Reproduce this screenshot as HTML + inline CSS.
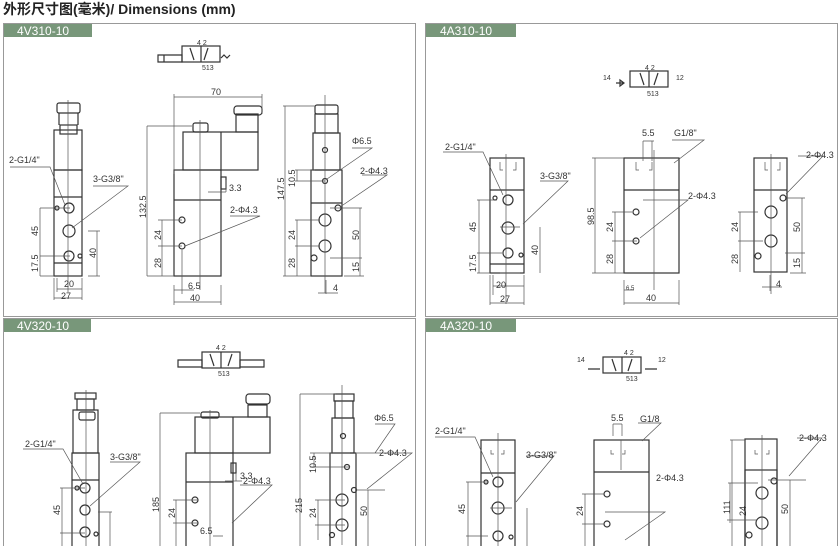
<!DOCTYPE html>
<html><head><meta charset="utf-8"><style>
body{margin:0;background:#fff;width:840px;height:546px;overflow:hidden}
svg{display:block}
text{font-family:"Liberation Sans","Noto Sans CJK SC",sans-serif;fill:#333}
.l{stroke:#333;stroke-width:1.2;fill:none}
.t{stroke:#555;stroke-width:0.7;fill:none}
.d{font-size:9px}
</style></head><body>
<svg width="840" height="546" viewBox="0 0 840 546" xmlns="http://www.w3.org/2000/svg">
<text x="3" y="14" style="font-size:14px;font-weight:bold;fill:#222">外形尺寸图(毫米)/ Dimensions (mm)</text>
<g stroke="#999" fill="none" stroke-width="1">
<rect x="3.5" y="23.5" width="412" height="293"/>
<rect x="425.5" y="23.5" width="412" height="293"/>
<path d="M3.5 546V318.5H415.5V546M425.5 546V318.5H837.5V546"/>
</g>
<g fill="#78977a">
<rect x="4" y="24" width="88" height="13"/><rect x="426" y="24" width="90" height="13"/>
<rect x="4" y="319" width="87" height="13"/><rect x="426" y="319" width="90" height="13"/>
</g>
<g style="font-size:12px;fill:#fff">
<text x="17" y="35" style="fill:#fff">4V310-10</text><text x="440" y="35" style="fill:#fff">4A310-10</text>
<text x="17" y="330" style="fill:#fff">4V320-10</text><text x="440" y="330" style="fill:#fff">4A320-10</text>
</g>

<g class="l" stroke-width="0.8">
<rect x="182" y="46" width="38" height="16"/><path d="M201 46v16M158 55h24v7h-24zM164 55v7M190 48l4 12M208 48l-4 12M221 58l3-3 3 3 3-3"/>
<rect x="630" y="71" width="38" height="16"/><path d="M649 71v16M616 83h8M640 73l4 12M658 73l-4 12M620 80l4 3-4 3z"/>
<rect x="202" y="352" width="38" height="16"/><path d="M221 352v16M178 360h24v7h-24zM240 360h24v7h-24zM210 354l4 12M232 354l-4 12"/>
<rect x="603" y="357" width="38" height="16"/><path d="M622 357v16M588 369h12M645 369h12M612 359l4 12M632 359l-4 12"/>
</g>
<g style="font-size:7px">
<text x="197" y="45">4 2</text><text x="202" y="70">513</text>
<text x="645" y="70">4 2</text><text x="647" y="96">513</text><text x="603" y="80">14</text><text x="676" y="80">12</text>
<text x="216" y="350">4 2</text><text x="218" y="376">513</text>
<text x="624" y="355">4 2</text><text x="626" y="381">513</text><text x="577" y="362">14</text><text x="658" y="362">12</text>
</g>

<g class="l">
<rect x="54" y="170" width="28" height="106"/><path d="M54 197h28M54 263h28"/>
<rect x="54" y="130" width="28" height="40"/><rect x="60" y="125" width="17" height="9"/>
<rect x="57" y="103" width="23" height="10" rx="2"/><path d="M59 113v12M78 113v12"/>
<circle cx="69" cy="208" r="5"/><circle cx="69" cy="231" r="6"/><circle cx="69" cy="256" r="5"/>
<circle cx="57" cy="208" r="2"/><circle cx="80" cy="256" r="2"/>
<rect x="174" y="170" width="47" height="106"/><path d="M174 200h47"/>
<rect x="183" y="132" width="75" height="38"/><path d="M221 132v38"/>
<rect x="236" y="114" width="22" height="18"/><rect x="234" y="106" width="28" height="9" rx="3"/>
<rect x="193" y="123" width="15" height="9" rx="2"/>
<rect x="221" y="177" width="5" height="12"/>
<circle cx="182" cy="220" r="3"/><circle cx="182" cy="246" r="3"/>
<rect x="311" y="170" width="31" height="106"/><path d="M311 203h31"/>
<rect x="313" y="133" width="27" height="37"/><rect x="315" y="114" width="23" height="19"/>
<rect x="315" y="105" width="23" height="9" rx="2"/>
<circle cx="325" cy="150" r="2.5"/><circle cx="325" cy="181" r="2.5"/>
<circle cx="325" cy="220" r="6"/><circle cx="325" cy="246" r="6"/>
<circle cx="338" cy="208" r="3"/><circle cx="314" cy="258" r="3"/>
</g>
<g class="t">
<path d="M68 100v192M200 120v170M325 95v198"/>
<path d="M40 208h30M40 256h30M40 276h14M40 208v68M88 231h12M88 276h12M97 231v45M57 278v14M82 278v22M54 278v22M57 289h25M54 298h28"/>
<path d="M10 167h40l15 38M93 186h35l-56 42"/>
<path d="M174 97h88M174 94v80M262 94v20M147 126h45M147 276h27M147 126v150M158 220h24M158 246h24M162 220v30M162 250v26M230 216h30l-75 30M208 192h18M226 192v-12M174 290h20M174 302h47M174 285v20M221 285v20M182 250v44"/>
<path d="M283 106h32M283 276h28M285 106v170M295 170h20M295 181h30M297 170v11M295 220h25M295 246h25M297 220v56M330 208h32M330 258h32M360 208v68M344 276h20M352 148h20l-45 31M362 175h25l-47 32M318 293h20M326 280v14"/>
</g>
<g class="d">
<text x="9" y="163">2-G1/4"</text><text x="93" y="182">3-G3/8"</text>
<text x="64" y="287">20</text><text x="61" y="299">27</text>
<text x="211" y="95">70</text><text x="230" y="213">2-Φ4.3</text><text x="229" y="191">3.3</text>
<text x="188" y="289">6.5</text><text x="190" y="301">40</text>
<text x="352" y="144">Φ6.5</text><text x="360" y="174">2-Φ4.3</text><text x="333" y="291">4</text>
</g>
<g class="d">
<text transform="translate(38,236) rotate(-90)">45</text><text transform="translate(38,272) rotate(-90)">17.5</text>
<text transform="translate(96,258) rotate(-90)">40</text><text transform="translate(146,218) rotate(-90)">132.5</text>
<text transform="translate(161,240) rotate(-90)">24</text><text transform="translate(161,268) rotate(-90)">28</text>
<text transform="translate(284,200) rotate(-90)">147.5</text><text transform="translate(295,187) rotate(-90)">10.5</text>
<text transform="translate(295,240) rotate(-90)">24</text><text transform="translate(295,268) rotate(-90)">28</text>
<text transform="translate(359,240) rotate(-90)">50</text><text transform="translate(359,272) rotate(-90)">15</text>
</g>

<g class="l">
<rect x="490" y="158" width="34" height="115"/><path d="M490 190h34M490 264h34"/>
<circle cx="508" cy="200" r="5"/><circle cx="508" cy="228" r="6"/><circle cx="508" cy="253" r="5"/>
<circle cx="495" cy="198" r="2"/><circle cx="521" cy="255" r="2"/>
<rect x="624" y="158" width="55" height="115"/><path d="M624 190h55"/>
<circle cx="636" cy="212" r="3"/><circle cx="636" cy="241" r="3"/>
<rect x="754" y="158" width="33" height="114"/><path d="M754 190h33"/>
<circle cx="771" cy="212" r="6"/><circle cx="771" cy="241" r="6"/>
<circle cx="783" cy="198" r="3"/><circle cx="758" cy="256" r="3"/>
</g>
<g class="t">
<path d="M506 154v150M654 150v140M771 154v140M500 162v8h3M516 162v8h-3M636 162v8h3M652 162v8h-3M765 162v8h3M780 162v8h-3"/>
<path d="M477 200h20M477 253h25M477 273h13M479 200v73M500 227h20M500 273h20M540 227v46M493 275v20M524 275v30M490 275v30M493 286h31M490 303h34"/>
<path d="M443 152h40l20 43M540 181h28l-45 43"/>
<path d="M592 158h32M592 273h32M595 158v115M612 212h20M612 241h25M615 212v61M643 200h45l-48 38M624 280v25M679 280v25M624 303h55M624 290h10M643 141h11M643 141v20M652 141v20M672 140h32l-30 23"/>
<path d="M738 212h20M738 241h25M740 212v60M785 198h20M785 253h20M802 198v75M790 273h16M798 156h25l-37 38M762 287h20M770 275v16"/>
</g>
<g class="d">
<text x="445" y="150">2-G1/4"</text><text x="540" y="179">3-G3/8"</text>
<text x="496" y="288">20</text><text x="500" y="302">27</text>
<text x="642" y="136">5.5</text><text x="674" y="136">G1/8"</text><text x="688" y="199">2-Φ4.3</text>
<text x="646" y="301">40</text><text x="626" y="290" style="font-size:6px">6.5</text>
<text x="806" y="158">2-Φ4.3</text><text x="776" y="287">4</text>
<text transform="translate(476,232) rotate(-90)">45</text><text transform="translate(476,272) rotate(-90)">17.5</text>
<text transform="translate(538,255) rotate(-90)">40</text><text transform="translate(594,225) rotate(-90)">98.5</text>
<text transform="translate(613,232) rotate(-90)">24</text><text transform="translate(613,264) rotate(-90)">28</text>
<text transform="translate(738,232) rotate(-90)">24</text><text transform="translate(738,264) rotate(-90)">28</text>
<text transform="translate(800,232) rotate(-90)">50</text><text transform="translate(800,268) rotate(-90)">15</text>
</g>

<g class="l">
<rect x="72" y="453" width="27" height="100"/><path d="M72 480h27"/>
<rect x="73" y="410" width="25" height="43"/><rect x="79" y="412" width="16" height="8" rx="2"/>
<rect x="75" y="393" width="21" height="6"/><rect x="77" y="399" width="17" height="11"/>
<circle cx="85" cy="488" r="5"/><circle cx="85" cy="510" r="5"/><circle cx="85" cy="532" r="5"/>
<circle cx="77" cy="488" r="2"/><circle cx="96" cy="534" r="2"/>
<rect x="186" y="453" width="47" height="100"/><path d="M186 482h47"/>
<rect x="195" y="417" width="75" height="36"/><path d="M233 417v36"/>
<rect x="248" y="405" width="19" height="12"/><rect x="246" y="394" width="24" height="10" rx="3"/>
<rect x="201" y="412" width="18" height="6" rx="2"/><rect x="231" y="463" width="5" height="10"/>
<circle cx="195" cy="500" r="3"/><circle cx="195" cy="523" r="3"/>
<rect x="330" y="453" width="26" height="100"/><rect x="332" y="418" width="22" height="35"/>
<rect x="334" y="394" width="20" height="7"/><rect x="335" y="401" width="18" height="17"/>
<circle cx="343" cy="436" r="2.5"/><circle cx="347" cy="467" r="2.5"/>
<circle cx="342" cy="500" r="6"/><circle cx="342" cy="525" r="6"/><circle cx="354" cy="490" r="2.5"/><circle cx="332" cy="535" r="2.5"/>
</g>
<g class="t">
<path d="M86 390v156M210 410v136M342 385v160"/>
<path d="M60 488h25M60 533h25M62 488v58M98 512h14M110 512v34M23 449h40l20 35M110 462h30l-50 44"/>
<path d="M160 413h40M160 413v133M173 500h25M173 523h25M176 500v50M240 485h32l-40 38M236 481v-8M225 481h17M213 536h10"/>
<path d="M300 394h36M300 394v152M310 453h40M310 467h40M314 453v14M315 500h30M315 525h30M318 500v40M355 490h30M368 490v56M357 453h55l-45 36M375 424h20l-20 29"/>
</g>
<g class="d">
<text x="25" y="447">2-G1/4"</text><text x="110" y="460">3-G3/8"</text>
<text x="243" y="484">2-Φ4.3</text><text x="240" y="479">3.3</text><text x="200" y="534">6.5</text>
<text x="374" y="421">Φ6.5</text><text x="379" y="456">2-Φ4.3</text>
<text transform="translate(60,515) rotate(-90)">45</text><text transform="translate(159,512) rotate(-90)">185</text>
<text transform="translate(175,518) rotate(-90)">24</text>
<text transform="translate(302,513) rotate(-90)">215</text><text transform="translate(316,473) rotate(-90)">10.5</text>
<text transform="translate(316,518) rotate(-90)">24</text><text transform="translate(367,516) rotate(-90)">50</text>
</g>

<g class="l">
<rect x="481" y="440" width="34" height="110"/><path d="M481 473h34"/>
<circle cx="498" cy="482" r="5"/><circle cx="498" cy="508" r="6"/><circle cx="498" cy="536" r="5"/>
<circle cx="486" cy="482" r="2"/><circle cx="511" cy="537" r="2"/>
<rect x="594" y="440" width="55" height="110"/><path d="M594 472h55"/>
<circle cx="607" cy="494" r="3"/><circle cx="607" cy="524" r="3"/>
<rect x="745" y="439" width="32" height="110"/><rect x="745" y="470" width="32" height="80"/>
<circle cx="762" cy="493" r="6"/><circle cx="762" cy="523" r="6"/><circle cx="774" cy="481" r="3"/><circle cx="749" cy="535" r="3"/>
</g>
<g class="t">
<path d="M498 433v113M621 440v30M762 435v111M491 450v4h3M504 450v4h-3M611 450v4h3M625 450v4h-3M755 450v4h3M769 450v4h-3"/>
<path d="M466 482h22M466 536h22M468 482v64M490 508h22M527 508v38M435 437h40l18 40M526 456h28l-38 46"/>
<path d="M582 494h22M582 524h22M585 494v52M605 512h60l-40 28M613 424v12M622 424v12M613 424h9M638 423h23l-19 18"/>
<path d="M730 440h15M732 440v106M728 483h30M727 520h30M730 483v40M768 480h38M768 551h38M790 480v66M797 438h25l-33 38"/>
</g>
<g class="d">
<text x="435" y="434">2-G1/4"</text><text x="526" y="458">3-G3/8"</text>
<text x="611" y="421">5.5</text><text x="640" y="422">G1/8</text><text x="656" y="481">2-Φ4.3</text>
<text x="799" y="441">2-Φ4.3</text>
<text transform="translate(465,514) rotate(-90)">45</text><text transform="translate(583,516) rotate(-90)">24</text>
<text transform="translate(730,514) rotate(-90)">111</text><text transform="translate(746,516) rotate(-90)">24</text>
<text transform="translate(788,514) rotate(-90)">50</text>
</g>
</svg>
</body></html>
